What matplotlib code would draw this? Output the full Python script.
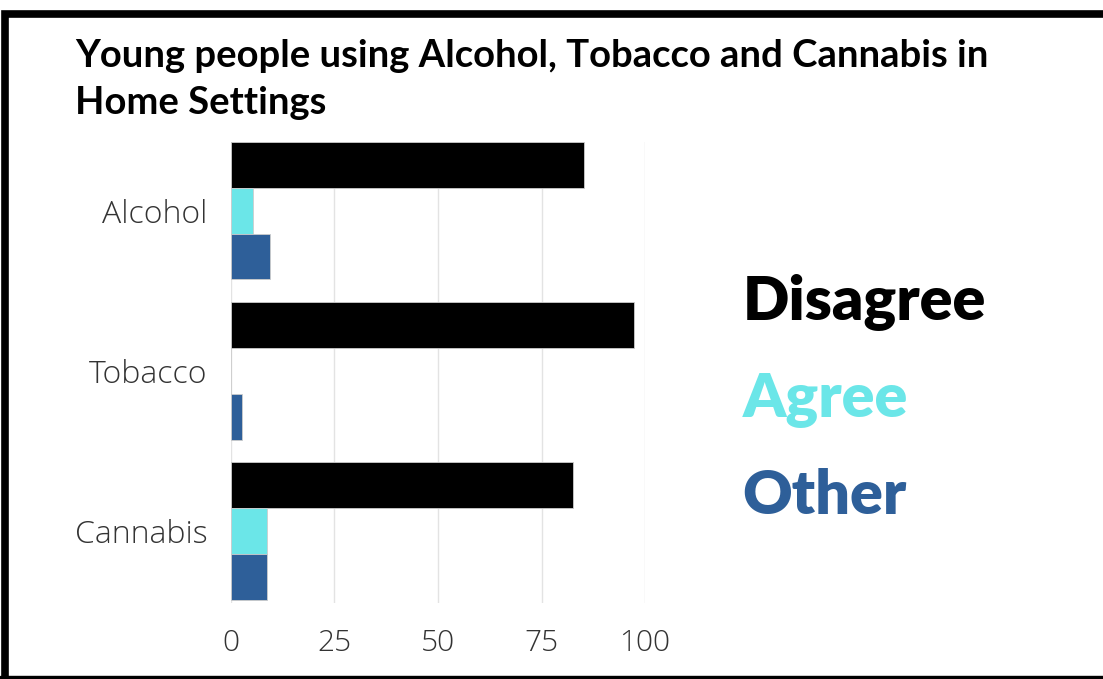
import numpy as np
import matplotlib.pyplot as plt
from matplotlib.patches import Rectangle

categories = ["Alcohol", "Tobacco", "Cannabis"]
series = ["Disagree", "Agree", "Other"]
disagree = [85.3, 97.3, 82.6]
agree = [5.3, 0.0, 8.7]
other = [9.4, 2.7, 8.7]
colors = ["#000000", "#6BE6E8", "#2E5F99"]
ticks = [0, 25, 50, 75, 100]

fig = plt.figure(figsize=(11.03, 6.79), dpi=100)
ax = fig.add_axes([0.2094, 0.1119, 0.3754, 0.679])

y = np.arange(len(categories))
h = 0.286
for i, (vals, c) in enumerate(zip([disagree, agree, other], colors)):
    ax.barh(y + (i - 1) * h, vals, height=h, color=c,
            edgecolor="#cccccc", linewidth=0.6, zorder=3)

ax.set_xlim(0, 100)
ax.set_ylim(2.45, -0.43)
ax.set_xticks(ticks)
ax.set_yticks(y)
ax.set_yticklabels(categories)
for s in ax.spines.values():
    s.set_visible(False)
ax.grid(axis="x", color="#e3e3e3", linewidth=1, zorder=0)
ax.tick_params(length=0, labelsize=23, labelcolor="#333333", pad=17)
ax.tick_params(axis="x", labelsize=21.5, pad=18)
for lab in ax.get_xticklabels() + ax.get_yticklabels():
    lab.set_family("Open Sans")
    lab.set_fontweight("light")

fig.text(0.068, 0.942, "Young people using Alcohol, Tobacco and Cannabis in\nHome Settings",
         fontsize=27.5, fontweight="bold", family="Lato", va="top", ha="left",
         linespacing=1.45, color="#000000")

for name, c, yy in zip(series, colors, [0.556, 0.412, 0.269]):
    fig.text(0.673, yy, name, fontsize=44, fontweight="heavy", family="Lato",
             color=c, va="center", ha="left")

# black frame around the picture
fig.patches.append(Rectangle((0.0045, -0.02), 1.2, 1.0, transform=fig.transFigure,
                             fill=False, edgecolor="black", linewidth=5.5,
                             clip_on=False))
fig.patches.append(Rectangle((0.0, 0.0), 1.2, 0.0045, transform=fig.transFigure,
                             color="black", clip_on=False))

fig.savefig("out.png", dpi=100)
